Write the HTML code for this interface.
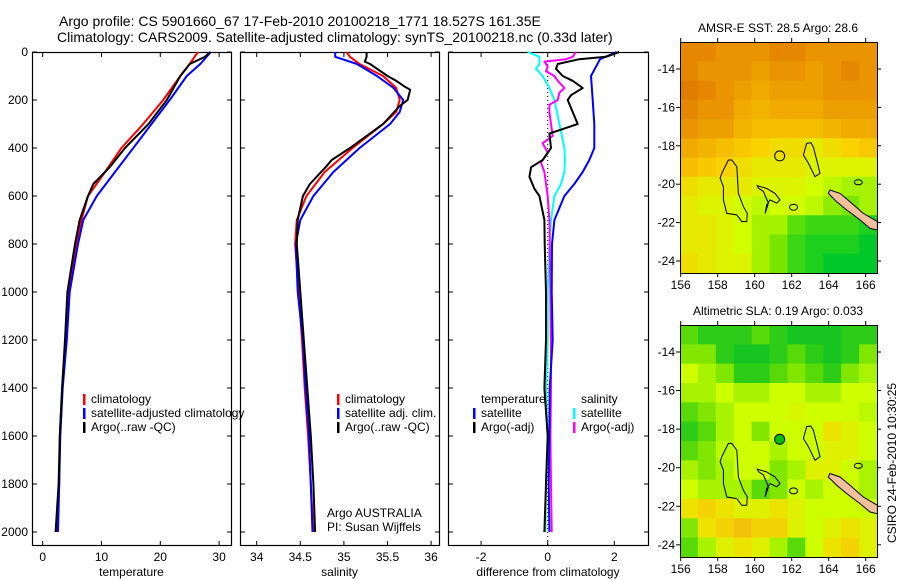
<!DOCTYPE html>
<html><head><meta charset="utf-8">
<style>
html,body{margin:0;padding:0;background:#fff;}
svg{display:block;font-family:"Liberation Sans",sans-serif;}
text{fill:#000;}
</style></head>
<body>
<svg id="fig" width="900" height="580" viewBox="0 0 900 580">
<text x="59" y="26" font-size="14">Argo profile: CS 5901660_67 17-Feb-2010 20100218_1771 18.527S 161.35E</text>
<text x="57" y="42" font-size="14">Climatology: CARS2009. Satellite-adjusted climatology: synTS_20100218.nc (0.33d later)</text>
</svg>
<script>
// ---------- profile data ----------
const depths = [0,50,100,200,300,400,500,600,700,800,1000,1200,1400,1600,1800,2000];
const tempClim = [26.4,25.0,23.4,20.5,17.1,13.4,10.6,7.7,6.6,5.8,4.3,3.9,3.3,2.9,2.8,2.5];
const tempSat  = [28.6,26.8,24.5,21.6,18.5,15.4,12.3,9.2,6.9,6.0,4.6,4.1,3.4,3.0,2.8,2.6];
const tempArgoDepths = [0,20,50,100,200,300,400,480,550,600,700,800,1000,1200,1400,1600,1800,2000];
const tempArgo = [28.5,27.6,25.0,23.4,21.1,18.0,14.0,11.4,8.6,7.7,6.3,5.5,4.2,3.8,3.3,2.9,2.7,2.2];

const salDepths = [0,20,50,100,150,200,250,300,400,500,600,700,800,1000,1200,1400,1600,1800,2000];
const salClim = [35.03,35.07,35.18,35.45,35.6,35.64,35.6,35.45,35.1,34.78,34.57,34.46,34.44,34.48,34.52,34.55,34.59,34.62,34.65];
const salSat  = [34.9,34.9,35.15,35.38,35.57,35.68,35.64,35.53,35.18,34.88,34.65,34.5,34.45,34.47,34.53,34.56,34.6,34.62,34.64];
const salArgoDepths = [0,20,40,50,100,120,145,157,200,225,300,400,450,480,550,600,700,800,1000,1200,1400,1600,1800,2000];
const salArgo = [35.26,35.26,35.24,35.3,35.5,35.6,35.7,35.76,35.73,35.64,35.45,35.07,34.86,34.79,34.61,34.53,34.47,34.46,34.5,34.54,34.58,34.62,34.65,34.67];

const diffDepths = [0,20,30,50,70,100,120,150,180,200,250,300,340,400,450,480,520,570,600,700,800,1000,1200,1400,1600,1800,2000];
const diffTempArgo = [2.15,1.75,0.95,0.3,0.25,0.45,0.75,1.05,0.7,0.6,0.75,0.9,0.05,0.1,-0.15,-0.5,-0.55,-0.4,-0.25,-0.1,-0.09,-0.05,-0.05,-0.1,0,-0.05,-0.1];
const diffTempSatDepths = [0,30,100,200,300,400,450,500,550,600,700,800,1000,1200,1400,1600,1800,2000];
const diffTempSat = [2.07,1.57,1.3,1.35,1.4,1.4,1.25,1.05,0.8,0.5,0.2,0.13,0.12,0.15,0.06,0.05,0.03,0.05];
const diffSalSatDepths = [0,20,50,70,100,150,200,300,400,450,500,550,600,700,800,1000,1200,1400,1600,1800,2000];
const diffSalSat = [-0.6,-0.25,-0.25,-0.35,-0.15,0.05,0.2,0.35,0.5,0.52,0.5,0.4,0.2,0.1,0.05,0,0,-0.05,0,-0.05,-0.07];
const diffSalArgoDepths = [0,20,30,40,60,80,100,120,150,170,200,220,250,300,350,380,420,460,500,600,700,1000,1200,1400,1600,1800,2000];
const diffSalArgo = [0.85,0.75,0.55,-0.1,0,-0.05,0.2,0.3,0.5,0.35,0.3,0.05,0.05,0.1,0.15,-0.15,0,-0.2,-0.1,0,0.05,0.08,0.1,0.1,0.08,0.1,0.12];

const tempTicks = [0,10,20,30];
const salTicks = [34,34.5,35,35.5,36];
const diffTicks = [-2,0,2];
const depthTicks = [0,200,400,600,800,1000,1200,1400,1600,1800,2000];

// ---------- map data ----------
const sstGrid = [
[0.95,0.95,0.9,0.9,0.9,0.95,0.95,0.9,0.9,0.9,0.9],
[0.95,0.9,0.9,0.9,0.85,0.9,0.9,0.85,0.9,0.95,0.9],
[1,0.95,0.9,0.85,0.8,0.85,0.85,0.85,0.9,0.9,0.9],
[0.95,0.9,0.9,0.8,0.75,0.8,0.8,0.8,0.85,0.85,0.85],
[0.9,0.85,0.85,0.75,0.7,0.7,0.7,0.7,0.75,0.8,0.8],
[0.8,0.75,0.7,0.65,0.6,0.55,0.55,0.5,0.55,0.6,0.65],
[0.7,0.65,0.6,0.55,0.5,0.5,0.5,0.45,0.45,0.45,0.45],
[0.55,0.5,0.5,0.5,0.45,0.45,0.45,0.4,0.35,0.3,0.3],
[0.5,0.45,0.45,0.4,0.35,0.4,0.4,0.35,0.25,0.2,0.3],
[0.5,0.5,0.45,0.4,0.3,0.3,0.15,0.1,0.1,0.1,0.05],
[0.5,0.5,0.45,0.4,0.3,0.2,0.1,0.05,0.05,0.05,0.0],
[0.55,0.5,0.45,0.45,0.3,0.2,0.1,0.05,0.0,0.0,0.0]];
const slaGrid = [
[0.2,0.1,0.1,0.1,0.2,0.1,0.05,0.05,0.05,0.1,0.1],
[0.3,0.3,0.1,0.05,0.05,0.1,0.2,0.1,0.05,0.1,0.3],
[0.5,0.4,0.3,0.1,0.1,0.2,0.3,0.2,0.1,0.3,0.4],
[0.4,0.4,0.5,0.4,0.4,0.5,0.5,0.4,0.4,0.5,0.5],
[0.2,0.3,0.4,0.5,0.5,0.5,0.55,0.5,0.5,0.5,0.45],
[0.1,0.2,0.4,0.5,0.3,0.5,0.5,0.5,0.7,0.6,0.5],
[0.2,0.3,0.45,0.5,0.5,0.4,0.5,0.5,0.6,0.6,0.5],
[0.4,0.3,0.4,0.5,0.5,0.3,0.4,0.6,0.6,0.5,0.4],
[0.5,0.4,0.4,0.4,0.2,0.3,0.5,0.4,0.5,0.5,0.4],
[0.7,0.8,0.7,0.6,0.6,0.7,0.6,0.5,0.5,0.5,0.5],
[0.3,0.7,0.8,0.9,0.8,0.8,0.6,0.5,0.6,0.7,0.6],
[0.2,0.4,0.6,0.7,0.6,0.4,0.2,0.5,0.7,0.8,0.6]];
const lonTicks = [156,158,160,162,164,166];
const latTicks = [-14,-16,-18,-20,-22,-24];
const argoLon = 161.35, argoLat = -18.527;
const coastWest = [[158.58,-18.74],[158.22,-19.43],[158.13,-19.69],[158.31,-20.13],[158.31,-20.82],[158.49,-21.52],[159.03,-21.6],[159.3,-21.95],[159.57,-21.95],[159.6,-21.52],[159.39,-21.17],[159.12,-20.48],[159.03,-19.09],[158.76,-18.74]];
const coastMid = [[160.14,-20.08],[160.65,-20.22],[161.1,-20.48],[161.37,-20.82],[161.19,-20.99],[160.83,-20.82],[160.65,-21.08],[160.56,-21.52],[160.74,-20.99],[160.47,-20.38],[160.2,-20.2]];
const coastEast = [[162.81,-17.87],[162.63,-18.48],[162.9,-18.91],[163.26,-19.61],[163.53,-19.43],[163.35,-18.74],[163.17,-18.05],[163.03,-17.84]];
const newCal = [[164.07,-20.3],[164.61,-20.48],[165.15,-20.91],[165.87,-21.52],[166.63,-21.95],[166.63,-22.39],[166.23,-22.3],[165.69,-21.86],[164.97,-21.34],[164.43,-20.91],[163.98,-20.48]];

const NS = "http://www.w3.org/2000/svg";
const svg = document.getElementById('fig');
function mk(tag, attrs, parent){
  const e = document.createElementNS(NS, tag);
  for (const k in attrs) e.setAttribute(k, attrs[k]);
  (parent||svg).appendChild(e);
  return e;
}
const FS = 12;
const yDepth = d => 52 + d*0.24;

function panel(name, x0, x1, xScale, ticks, label, fmt){
  const g = mk('g', {});
  
  
  const fr = mk('rect', {x:x0+0.5, y:52.5, width:x1-x0, height:493, fill:'none', stroke:'#000', 'stroke-width':1.2}, g);
  
  
  ticks.forEach(t => {
    const x = xScale(t);
    mk('line', {x1:x, x2:x, y1:545.5, y2:541, stroke:'#000'}, g);
    mk('line', {x1:x, x2:x, y1:52.5, y2:57, stroke:'#000'}, g);
    const tl = mk('text', {x:x, y:561, 'font-size':FS, 'text-anchor':'middle'}, g);
    tl.textContent = fmt ? fmt(t) : t;
    
    
  });
  depthTicks.forEach(d => {
    const y = yDepth(d);
    mk('line', {x1:x0+0.5, x2:x0+5, y1:y, y2:y, stroke:'#000'}, g);
    mk('line', {x1:x1+0.5, x2:x1-4, y1:y, y2:y, stroke:'#000'}, g);
  });
  const xl = mk('text', {x:(x0+x1)/2, y:576, 'font-size':FS, 'text-anchor':'middle'}, g);
  xl.textContent = label;
  
  
  return g;
}
function line(g, xs, ds, xScale, color, name, w){
  const pts = xs.map((v,i) => xScale(v).toFixed(1) + ',' + yDepth(ds[i]).toFixed(1)).join(' ');
  const p = mk('polyline', {points:pts, fill:'none', stroke:color, 'stroke-width':w||2, 'stroke-linejoin':'round'}, g);
  
  
}
function legend(g, x, y, color, txt, name){
  mk('rect', {x:x, y:y-9, width:2.5, height:11, fill:color}, g);
  const t = mk('text', {x:x+8, y:y, 'font-size':FS}, g);
  t.textContent = txt;
  
  
}

// Panel 1 temperature
const xT = v => 42.7 + v*5.88;
const g1 = panel('temperature', 32, 231, xT, tempTicks, 'temperature');
depthTicks.forEach(d => {
  const t = mk('text', {x:28, y:yDepth(d)+4, 'font-size':FS, 'text-anchor':'end'});
  t.textContent = d;
  
  
});
line(g1, tempClim, depths, xT, '#ff0000', 'temp-climatology-line');
line(g1, tempSat, depths, xT, '#0000ff', 'temp-satellite-line');
line(g1, tempArgo, tempArgoDepths, xT, '#000000', 'temp-argo-line');
legend(g1, 83, 403, '#ff0000', 'climatology', 'legend-climatology');
legend(g1, 83, 417, '#0000ff', 'satellite-adjusted climatology', 'legend-satellite-adjusted');
legend(g1, 83, 431, '#000000', 'Argo(..raw -QC)', 'legend-argo');

// Panel 2 salinity
const xS = v => 256.7 + (v-34)*87.2;
const g2 = panel('salinity', 240, 439, xS, salTicks, 'salinity');
line(g2, salClim, salDepths, xS, '#ff0000', 'sal-climatology-line');
line(g2, salSat, salDepths, xS, '#0000ff', 'sal-satellite-line');
line(g2, salArgo, salArgoDepths, xS, '#000000', 'sal-argo-line');
legend(g2, 337, 403, '#ff0000', 'climatology', 'legend-sal-climatology');
legend(g2, 337, 417, '#0000ff', 'satellite adj. clim.', 'legend-sal-satellite');
legend(g2, 337, 431, '#000000', 'Argo(..raw -QC)', 'legend-sal-argo');
const a1 = mk('text', {x:327, y:517, 'font-size':FS}, g2); a1.textContent = 'Argo AUSTRALIA';


const a2 = mk('text', {x:327, y:531, 'font-size':FS}, g2); a2.textContent = 'PI: Susan Wijffels';



// Panel 3 difference
const xD = v => 547.7 + v*33.3;
const g3 = panel('difference', 448, 648, xD, diffTicks, 'difference from climatology');
mk('line', {x1:xD(0), x2:xD(0), y1:52, y2:545, stroke:'#000', 'stroke-dasharray':'1,3'}, g3);
line(g3, diffSalSat, diffSalSatDepths, xD, '#00ffff', 'diff-sal-satellite-line');
line(g3, diffSalArgo, diffSalArgoDepths, xD, '#ff00ff', 'diff-sal-argo-line');
line(g3, diffTempSat, diffTempSatDepths, xD, '#0000ff', 'diff-temp-satellite-line');
line(g3, diffTempArgo, diffDepths, xD, '#000000', 'diff-temp-argo-line');
const lt = mk('text', {x:481, y:403, 'font-size':FS}, g3); lt.textContent = 'temperature';


legend(g3, 473, 417, '#0000ff', 'satellite', 'legend-temp-satellite');
legend(g3, 473, 431, '#000000', 'Argo(-adj)', 'legend-temp-argo');
const ls = mk('text', {x:581, y:403, 'font-size':FS}, g3); ls.textContent = 'salinity';


legend(g3, 573, 417, '#00ffff', 'satellite', 'legend-sal-satellite-diff');
legend(g3, 573, 431, '#ff00ff', 'Argo(-adj)', 'legend-sal-argo-diff');

// ---------- maps ----------
function lerp(a,b,t){return a.map((v,i)=>Math.round(v+(b[i]-v)*t));}
function ramp(stops, v){
  v = Math.max(0, Math.min(1, v));
  const n = stops.length-1, p = v*n, i = Math.min(n-1, Math.floor(p));
  const c = lerp(stops[i], stops[i+1], p-i);
  return 'rgb(' + c.join(',') + ')';
}
const sstStops = [[0,200,40],[120,230,0],[210,255,0],[250,210,0],[240,170,0],[225,125,0]];
const slaStops = [[0,190,40],[110,225,0],[205,255,0],[245,220,0],[240,175,20]];

function map(name, top, bottom, grid, stops, title, argoFill){
  const left = 680, right = 877;
  const lonX = lon => 680.7 + (lon-156)*18.5;
  const latY = lat => (top+27) + (-14-lat)*19.2 * ((bottom-top)/231);
  const g = mk('g', {});
  
  
  const rows = grid.length, cols = grid[0].length;
  const cw = (right-left)/cols, ch = (bottom-top)/rows;
  grid.forEach((row, r) => row.forEach((v, c) => {
    const cell = mk('rect', {x:left+c*cw, y:top+r*ch, width:cw+0.6, height:ch+0.6, fill:ramp(stops, v)}, g);
    
    
  }));
  const poly = (pts, fill, nm) => {
    const p = mk('polygon', {points:pts.map(q => lonX(q[0]).toFixed(1)+','+latY(q[1]).toFixed(1)).join(' '), fill:fill, stroke:'#000', 'stroke-width':1}, g);
    
    
  };
  poly(coastWest, 'none', 'coastline-west');
  poly(coastMid, 'none', 'coastline-middle');
  poly(coastEast, 'none', 'coastline-east');
  poly(newCal, '#f4c09c', 'new-caledonia');
  mk('ellipse', {cx:lonX(162.1), cy:latY(-21.2), rx:4, ry:3, fill:'none', stroke:'#000'}, g);
  mk('ellipse', {cx:lonX(165.6), cy:latY(-19.9), rx:4, ry:2.5, fill:'none', stroke:'#000'}, g);
  const m = mk('circle', {cx:lonX(argoLon), cy:latY(argoLat), r:5, fill:argoFill, stroke:'#000', 'stroke-width':1}, g);
  
  
  mk('rect', {x:left+0.5, y:top+0.5, width:right-left, height:bottom-top, fill:'none', stroke:'#000'}, g);
  lonTicks.forEach(l => {
    const x = lonX(l);
    mk('line', {x1:x, x2:x, y1:bottom, y2:bottom+4, stroke:'#000'}, g);
    mk('line', {x1:x, x2:x, y1:top, y2:top-4, stroke:'#000'}, g);
    const t = mk('text', {x:x, y:bottom+16, 'font-size':FS, 'text-anchor':'middle'}, g);
    t.textContent = l;
    
    
  });
  latTicks.forEach(l => {
    const y = latY(l);
    mk('line', {x1:left, x2:left-4, y1:y, y2:y, stroke:'#000'}, g);
    mk('line', {x1:right, x2:right+4, y1:y, y2:y, stroke:'#000'}, g);
    const t = mk('text', {x:675, y:y+4, 'font-size':FS, 'text-anchor':'end'}, g);
    t.textContent = l;
    
    
  });
  const tt = mk('text', {x:778, y:top-10, 'font-size':FS, 'text-anchor':'middle'}, g);
  tt.textContent = title;
  
  
}
map('sst', 42, 273, sstGrid, sstStops, 'AMSR-E SST: 28.5 Argo: 28.6', 'none');
map('sla', 325, 557, slaGrid, slaStops, 'Altimetric SLA: 0.19 Argo: 0.033', '#00c000');

const cs = mk('text', {x:0, y:0, 'font-size':FS, 'text-anchor':'middle', transform:'translate(896,463) rotate(-90)'});
cs.textContent = 'CSIRO 24-Feb-2010 10:30:25';


</script>
</body></html>
